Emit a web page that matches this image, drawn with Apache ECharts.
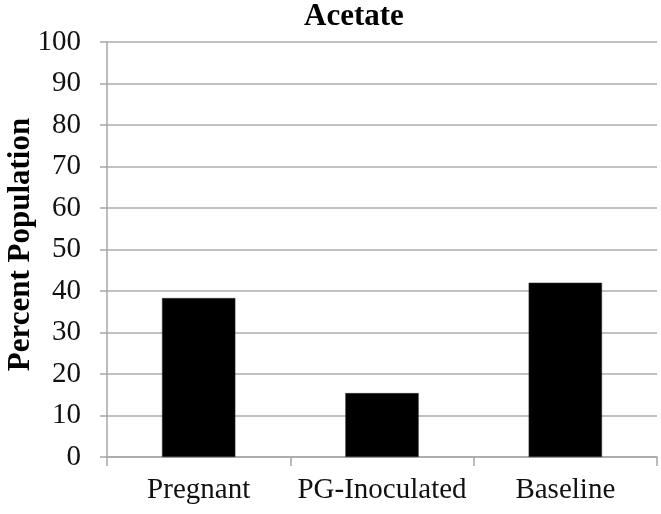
<!DOCTYPE html>
<html>
<head>
<meta charset="utf-8">
<script src="https://cdn.jsdelivr.net/npm/echarts@6/dist/echarts.min.js"></script>
<style>
html,body{margin:0;padding:0;background:#fff;}
#chart{width:661px;height:514px;}
</style>
</head>
<body>
<div id="chart"></div>
<script>
var categories = ['Pregnant', 'PG-Inoculated', 'Baseline'];
var percentValues = [38.3, 15.4, 42.0];
var yTicks = [0, 10, 20, 30, 40, 50, 60, 70, 80, 90, 100];

var serif = '"Liberation Serif", "Times New Roman", serif';
var chart = echarts.init(document.getElementById('chart'));
chart.setOption({
  animation: false,
  backgroundColor: '#fff',
  title: {
    text: 'Acetate',
    left: 304,
    top: 1,
    padding: 0,
    textStyle: {fontFamily: serif, fontSize: 31, fontWeight: 'bold', color: '#000'}
  },
  grid: {left: 107, right: 4, top: 42, bottom: 57, containLabel: false, outerBoundsMode: 'none'},
  xAxis: {
    type: 'category',
    data: categories,
    axisLine: {lineStyle: {color: '#a6a6a6', width: 1.5}},
    axisTick: {show: true, length: 9, lineStyle: {color: '#a6a6a6', width: 1.5}},
    axisLabel: {interval: 0, margin: 19, fontFamily: serif, fontSize: 29, color: '#111'}
  },
  yAxis: {
    type: 'value',
    min: yTicks[0],
    max: yTicks[yTicks.length - 1],
    interval: 10,
    name: 'Percent Population',
    nameLocation: 'middle',
    nameGap: 71,
    nameMoveOverlap: false,
    nameTextStyle: {fontFamily: serif, fontSize: 31, fontWeight: 'bold', color: '#000', padding: [0, 0, 0, 10]},
    axisLine: {show: true, lineStyle: {color: '#a6a6a6', width: 1.5}},
    axisTick: {show: true, length: 7, lineStyle: {color: '#a6a6a6', width: 1.5}},
    axisLabel: {margin: 26, fontFamily: serif, fontSize: 29, color: '#111'},
    splitLine: {show: true, lineStyle: {color: '#acacac', width: 1.5}}
  },
  series: [{
    type: 'bar',
    data: percentValues,
    barWidth: '40%',
    itemStyle: {color: '#000', borderColor: '#333', borderWidth: 0.5}
  }]
});
</script>
</body>
</html>
